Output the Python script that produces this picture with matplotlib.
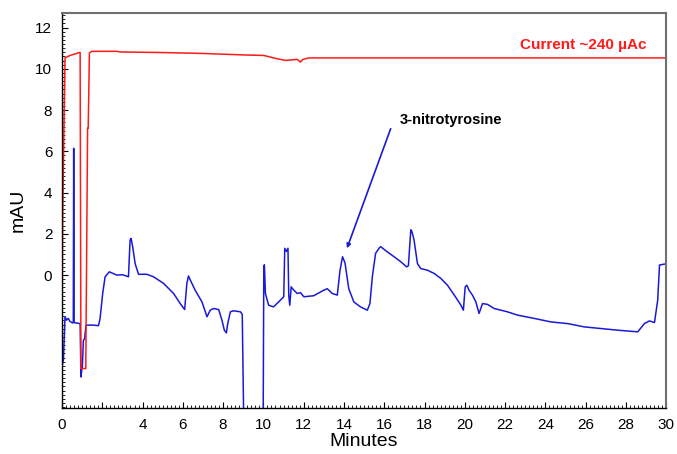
import matplotlib
matplotlib.use("Agg")
import matplotlib.pyplot as plt
from matplotlib.ticker import MultipleLocator

plt.rcParams['font.family'] = ['Liberation Sans', 'DejaVu Sans']

# blue trace (absorbance, mAU)
blue_t = [0.0, 0.07, 0.15, 0.23, 0.31, 0.4, 0.53, 0.56, 0.58, 0.60, 0.90, 0.94, 0.98, 1.01,
          1.06, 1.12, 1.19, 1.5, 1.81, 1.89, 2.02, 2.14, 2.35, 2.72, 3.0, 3.3, 3.38, 3.43,
          3.51, 3.63, 3.8, 4.21, 4.54, 5.04, 5.54, 5.87, 6.09, 6.2, 6.28, 6.37, 6.61, 6.95,
          7.2, 7.36, 7.53, 7.78, 7.94, 8.06, 8.16, 8.23, 8.36, 8.52, 8.86, 8.95, 9.05, 9.98,
          10.02, 10.05, 10.1, 10.26, 10.5, 10.76, 11.01, 11.06, 11.14, 11.22, 11.26, 11.31,
          11.38, 11.51, 11.68, 11.84, 12.01, 12.5, 13.0, 13.17, 13.42, 13.67, 13.8, 13.93,
          14.05, 14.24, 14.49, 14.82, 15.16, 15.29, 15.41, 15.57, 15.74, 15.82, 16.15, 16.49,
          16.82, 17.11, 17.2, 17.32, 17.38, 17.48, 17.65, 17.81, 18.14, 18.48, 18.81, 19.14,
          19.48, 19.81, 19.93, 20.02, 20.1, 20.21, 20.38, 20.55, 20.71, 20.88, 21.13, 21.46,
          21.79, 22.12, 22.62, 23.45, 24.28, 25.11, 25.93, 26.76, 27.59, 28.59, 28.92, 29.17,
          29.42, 29.58, 29.67, 29.95]
blue_v = [-4.45, -4.1, -2.02, -2.18, -2.1, -2.25, -2.32, -2.3, 6.15, -2.3, -2.35, -4.94, -4.6, -4.45,
          -3.16, -3.1, -2.43, -2.42, -2.45, -2.1, -0.89, -0.08, 0.16, 0.0, 0.02, -0.08, 1.7, 1.78,
          1.37, 0.56, 0.04, 0.04, -0.08, -0.4, -0.89, -1.38, -1.67, -0.4, -0.04, -0.24, -0.73, -1.3,
          -2.02, -1.7, -1.62, -1.67, -2.18, -2.67, -2.8, -2.35, -1.78, -1.73, -1.78, -1.9, -9, -9,
          0.4, 0.5, -0.89, -1.46, -1.54, -1.3, -1.05, 1.3, 1.15, 1.3, -1.0, -1.46,
          -0.57, -0.73, -0.89, -0.85, -1.05, -1.0, -0.73, -0.66, -0.89, -0.97, 0.2, 0.89,
          0.6, -0.66, -1.3, -1.54, -1.7, -1.38, -0.08, 1.05, 1.3, 1.38, 1.13, 0.89,
          0.65, 0.4, 0.45, 2.2, 2.1, 1.7, 0.56, 0.32, 0.24, 0.08, -0.16, -0.49,
          -0.97, -1.46, -1.7, -0.57, -0.49, -0.73, -0.97, -1.3, -1.86, -1.38, -1.42, -1.62,
          -1.7, -1.78, -1.94, -2.1, -2.27, -2.35, -2.51, -2.59, -2.67, -2.75, -2.35, -2.22,
          -2.3, -1.21, 0.49, 0.54]

# red trace (cell current)
red_t = [0.0, 0.03, 0.15, 0.4, 0.9, 0.94, 1.18, 1.22, 1.27, 1.3, 1.36, 1.47, 2.72, 2.88, 5.04,
         6.87, 9.19, 10.02, 10.35, 10.68, 11.09, 11.68, 11.84, 11.95, 12.25, 30.0]
red_v = [-4.45, 2.67, 10.53, 10.65, 10.8, -4.53, -4.53, 0.57, 7.12, 7.12, 10.77, 10.85, 10.85, 10.82, 10.79,
         10.75, 10.67, 10.65, 10.57, 10.49, 10.41, 10.46, 10.33, 10.45, 10.53, 10.53]

x_ticks = list(range(0, 31, 2))
x_labels = ['' if t == 2 else str(t) for t in x_ticks]
y_ticks = list(range(0, 13, 2))

fig = plt.figure(figsize=(6.77, 4.54), dpi=100)
ax = fig.add_axes([0.0916, 0.101, 0.8924, 0.870])

ax.plot(blue_t, blue_v, color='#1a1ad6', lw=1.1)
ax.plot(red_t, red_v, color='#ff1a1a', lw=1.1)

ax.set_xlim(0, 30)
ax.set_ylim(-6.45, 12.7)
ax.set_xticks(x_ticks)
ax.set_xticklabels(x_labels)
ax.set_yticks(y_ticks)
ax.xaxis.set_minor_locator(MultipleLocator(0.2))
ax.yaxis.set_minor_locator(MultipleLocator(0.2))
ax.tick_params(which='major', direction='in', length=4, width=0.8, labelsize=11, pad=7,
               top=False, right=False)
ax.tick_params(which='minor', direction='in', length=2, width=0.6, top=False, right=False)

for s in ['top', 'right']:
    ax.spines[s].set_color('#707070')
    ax.spines[s].set_linewidth(1.5)
for s in ['left', 'bottom']:
    ax.spines[s].set_color('black')
    ax.spines[s].set_linewidth(1.0)

ax.set_xlabel('Minutes', fontsize=14, labelpad=1)
ax.set_ylabel('mAU', fontsize=14, labelpad=6)

ax.text(29.0, 11.18, 'Current ~240 \u00b5Ac', color='#ff1a1a', fontsize=11,
        fontweight='bold', ha='right', va='center')
ax.annotate('', xy=(14.15, 1.3), xytext=(16.32, 7.1),
            arrowprops=dict(arrowstyle='-|>', color='#1a1ad6', lw=1.2,
                            mutation_scale=6, shrinkA=0, shrinkB=0))
ax.text(16.77, 7.53, '3-nitrotyrosine', color='black', fontsize=10.5,
        fontweight='bold', ha='left', va='center')

fig.savefig('out.png', dpi=100)
